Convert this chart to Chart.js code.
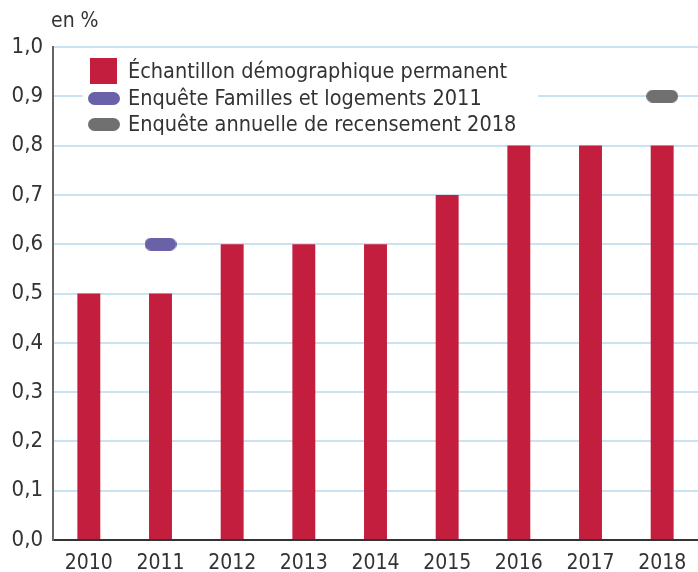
<!DOCTYPE html>
<html>
<head>
<meta charset="utf-8">
<script src="https://cdn.jsdelivr.net/npm/chart.js@4"></script>
<style>
  body { margin: 0; background: #fff; overflow: hidden; }
  canvas { display: block; }
</style>
</head>
<body>
<canvas id="myChart" width="698" height="572"></canvas>
<script>
"use strict";

const years = ["2010", "2011", "2012", "2013", "2014", "2015", "2016", "2017", "2018"];
const edpValues = [0.5, 0.5, 0.6, 0.6, 0.6, 0.7, 0.8, 0.8, 0.8];
const famillesValues = [null, 0.6, null, null, null, null, null, null, null];
const recensementValues = [null, null, null, null, null, null, null, null, 0.9];
const seriesNames = [
   "Échantillon démographique permanent",
   "Enquête Familles et logements 2011",
   "Enquête annuelle de recensement 2018",
];
const yTicks = [0, 0.1, 0.2, 0.3, 0.4, 0.5, 0.6, 0.7, 0.8, 0.9, 1.0];

const FONT = "'Liberation Sans Narrow', 'DejaVu Sans Condensed', 'Liberation Sans', sans-serif";
const red = "#c41e3f";
const purple = "#6a62a9";
const grey = "#707070";

// pill shaped marker for the two survey points
function pill(color, w, h) {
   const c = document.createElement("canvas");
   c.width = w;
   c.height = h;
   const g = c.getContext("2d");
   g.fillStyle = color;
   g.beginPath();
   g.roundRect(0, 0, w, h, h / 2);
   g.fill();
   return c;
}

const legendPlugin = {
   id: "boxLegend",
   beforeDatasetsDraw(chart) {
      const g = chart.ctx;
      g.save();
      g.fillStyle = "#fff";
      g.fillRect(83, 52, 455, 88);
      g.fillStyle = red;
      g.fillRect(90, 58, 27, 26);
      g.drawImage(pill(purple, 32, 13), 88, 92);
      g.drawImage(pill(grey, 32, 13), 88, 118);
      g.fillStyle = "#333";
      g.font = "21.5px " + FONT;
      g.textBaseline = "middle";
      g.fillText(seriesNames[0], 128, 72);
      g.fillText(seriesNames[1], 128, 99);
      g.fillText(seriesNames[2], 128, 125);
      g.restore();
   },
   afterDraw(chart) {
      const g = chart.ctx;
      g.save();
      g.fillStyle = "#333";
      g.font = "21px " + FONT;
      g.textBaseline = "middle";
      g.fillText("en %", 51, 22);
      g.restore();
   },
};

const ctx = document.getElementById("myChart").getContext("2d");
const myChart = new Chart(ctx, {
   type: "bar",
   data: {
      labels: years,
      datasets: [
         {
            label: seriesNames[0],
            data: edpValues,
            backgroundColor: red,
            barPercentage: 0.32,
            categoryPercentage: 1,
            order: 2,
         },
         {
            type: "line",
            label: seriesNames[1],
            data: famillesValues,
            showLine: false,
            pointStyle: pill(purple, 32, 13),
            order: 1,
         },
         {
            type: "line",
            label: seriesNames[2],
            data: recensementValues,
            showLine: false,
            pointStyle: pill(grey, 32, 13),
            order: 1,
         },
      ],
   },
   options: {
      responsive: false,
      animation: false,
      layout: { autoPadding: false, padding: { top: 47, right: -5, left: 0, bottom: 0 } },
      plugins: { legend: { display: false }, tooltip: { enabled: false } },
      scales: {
         x: {
            grid: { display: false },
            border: { display: true, color: "#333", width: 2 },
            ticks: { color: "#333", font: { family: FONT, size: 21 }, padding: 3 },
            afterFit(scale) {
               scale.height = 32;
            },
         },
         y: {
            min: 0,
            max: 1,
            afterBuildTicks(scale) { scale.ticks = yTicks.map(v => ({ value: v })); },
            grid: { color: "#c9e3f0", lineWidth: 2, drawTicks: false },
            border: { display: true, color: "#666", width: 2 },
            ticks: {
               color: "#333",
               font: { family: FONT, size: 22 },
               padding: 10,
               callback: v => v.toFixed(1).replace(".", ","),
            },
            afterFit(scale) {
               scale.width = 53;
            },
         },
      },
   },
   plugins: [legendPlugin],
});
</script>
</body>
</html>
